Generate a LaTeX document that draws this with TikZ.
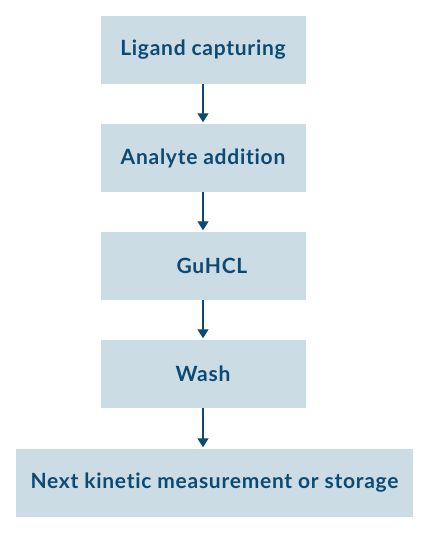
\documentclass[tikz,border=0pt]{standalone}
\usepackage{fontspec}
\setmainfont{Lato}[LetterSpace=3.5,Ligatures={NoCommon}]
\usetikzlibrary{arrows.meta}
\definecolor{boxfill}{HTML}{CCDCE5}
\definecolor{ink}{HTML}{0D4A73}
\begin{document}
\begin{tikzpicture}[x=1pt,y=-1pt,
  stepbox/.style={fill=boxfill,draw=none,minimum height=68pt,inner sep=0pt,
    text=ink,font=\bfseries\fontsize{21}{24}\selectfont},
  conn/.style={draw=ink,line width=1.3pt,-{Triangle[length=9pt,width=11pt]},shorten >=1.5pt}]
\useasboundingbox (0,0) rectangle (430,534);
\node[stepbox,minimum width=205pt] (a) at (203,50) {Ligand capturing};
\node[stepbox,minimum width=205pt] (b) at (203,158) {Analyte addition};
\node[stepbox,minimum width=205pt] (c) at (203,266) {\hspace*{18pt}GuHCL};
\node[stepbox,minimum width=205pt] (d) at (203,374) {Wash};
\node[stepbox,minimum width=397pt] (e) at (214.5,483) {Next kinetic measurement or storage};
\draw[conn] (a) -- (b);
\draw[conn] (b) -- (c);
\draw[conn] (c) -- (d);
\draw[conn] (d.south) -- (d.south |- e.north);
\end{tikzpicture}
\end{document}
